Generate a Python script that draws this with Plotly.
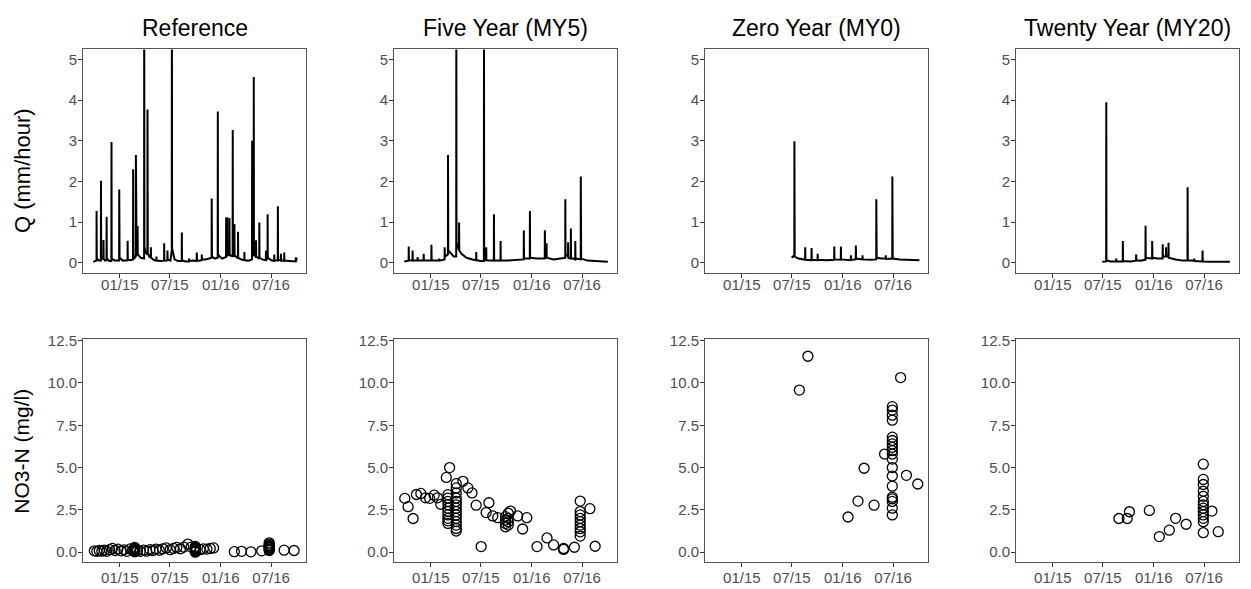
import plotly.graph_objects as go

# ---------------- data ----------------
panel_titles = ["Reference", "Five Year (MY5)", "Zero Year (MY0)", "Twenty Year (MY20)"]

x_tick_vals = ["2015-01-01", "2015-07-01", "2016-01-01", "2016-07-01"]
x_tick_text = ["01/15", "07/15", "01/16", "07/16"]
q_tick_vals = [0, 1, 2, 3, 4, 5]
q_tick_text = ["0", "1", "2", "3", "4", "5"]
n_tick_vals = [0, 2.5, 5, 7.5, 10, 12.5]
n_tick_text = ["0.0", "2.5", "5.0", "7.5", "10.0", "12.5"]

# discharge, Reference watershed
ref_q_time = [
    "2014-09-27", "2014-10-04", "2014-10-08 18:00", "2014-10-09 04:00", "2014-10-09 20:00",
    "2014-10-16", "2014-10-24 12:00", "2014-10-25 00:00", "2014-10-25 18:00",
    "2014-11-02 12:00", "2014-11-03 00:00", "2014-11-03 14:00", "2014-11-09",
    "2014-11-14 00:00", "2014-11-14 10:00", "2014-11-15 00:00", "2014-11-24",
    "2014-12-01 12:00", "2014-12-02 00:00", "2014-12-02 16:00", "2014-12-14",
    "2014-12-29 12:00", "2014-12-30 00:00", "2014-12-30 12:00", "2014-12-31 06:00",
    "2015-01-12", "2015-01-29 00:00", "2015-01-29 08:00", "2015-01-30 00:00",
    "2015-02-08", "2015-02-17 20:00", "2015-02-18 06:00", "2015-02-18 20:00",
    "2015-02-24", "2015-02-27 20:00", "2015-02-28 04:00", "2015-02-28 18:00",
    "2015-03-03 00:00", "2015-03-06 00:00", "2015-03-06 08:00", "2015-03-07 00:00",
    "2015-03-18", "2015-03-29 20:00", "2015-03-30 06:00", "2015-03-31 00:00",
    "2015-04-04", "2015-04-10 20:00", "2015-04-11 04:00", "2015-04-11 12:00",
    "2015-04-12 06:00", "2015-04-17", "2015-04-23 00:00", "2015-04-23 08:00",
    "2015-04-24", "2015-05-06", "2015-05-13 00:00", "2015-05-13 08:00", "2015-05-14",
    "2015-05-28", "2015-06-10 00:00", "2015-06-10 08:00", "2015-06-11", "2015-06-17",
    "2015-06-22 00:00", "2015-06-22 08:00", "2015-06-23", "2015-07-03", "2015-07-07 20:00",
    "2015-07-08 06:00", "2015-07-09 00:00", "2015-07-18", "2015-07-30", "2015-08-12 20:00",
    "2015-08-13 06:00", "2015-08-13 20:00", "2015-08-25", "2015-09-08 00:00",
    "2015-09-08 08:00", "2015-09-09", "2015-09-22", "2015-10-05 20:00", "2015-10-06 06:00",
    "2015-10-07", "2015-10-16", "2015-10-24 00:00", "2015-10-24 08:00", "2015-10-25",
    "2015-11-08", "2015-11-16", "2015-11-28 20:00", "2015-11-29 04:00", "2015-11-29 12:00",
    "2015-11-30 06:00", "2015-12-10", "2015-12-20 20:00", "2015-12-21 06:00",
    "2015-12-21 20:00", "2016-01-05", "2016-01-14", "2016-01-20 00:00", "2016-01-20 08:00",
    "2016-01-21", "2016-01-24 00:00", "2016-01-24 08:00", "2016-01-25", "2016-02-01 00:00",
    "2016-02-01 08:00", "2016-02-02", "2016-02-12 20:00", "2016-02-13 06:00",
    "2016-02-13 20:00", "2016-02-19 00:00", "2016-02-19 08:00", "2016-02-20",
    "2016-03-03 00:00", "2016-03-03 08:00", "2016-03-04", "2016-03-14", "2016-03-26 00:00",
    "2016-03-26 08:00", "2016-03-27", "2016-04-12", "2016-04-22 20:00", "2016-04-23 06:00",
    "2016-04-24", "2016-04-28 20:00", "2016-04-29 06:00", "2016-04-29 20:00",
    "2016-05-07 00:00", "2016-05-07 08:00", "2016-05-08", "2016-05-19 00:00",
    "2016-05-19 08:00", "2016-05-20", "2016-05-30", "2016-06-12 00:00", "2016-06-12 08:00",
    "2016-06-13", "2016-06-18 00:00", "2016-06-18 08:00", "2016-06-19", "2016-07-02",
    "2016-07-12 00:00", "2016-07-12 08:00", "2016-07-13", "2016-07-25 00:00",
    "2016-07-25 08:00", "2016-07-26", "2016-08-05 00:00", "2016-08-05 08:00", "2016-08-06",
    "2016-08-17 00:00", "2016-08-17 08:00", "2016-08-18", "2016-09-06", "2016-09-20",
    "2016-09-28 00:00", "2016-09-28 08:00", "2016-09-29", "2016-10-02",
]
ref_q_val = [
    0.02, 0.04, 0.05, 1.27, 0.10,
    0.06, 0.05, 2.02, 0.15,
    0.08, 0.56, 0.10, 0.05,
    0.06, 1.13, 0.10, 0.04,
    0.04, 2.97, 0.10, 0.05,
    0.05, 1.80, 1.30, 0.12,
    0.05, 0.06, 0.54, 0.08,
    0.06, 0.08, 2.30, 0.20,
    0.12, 0.15, 2.65, 0.30,
    0.18, 0.20, 0.90, 0.20,
    0.12, 0.10, 7.50, 0.40,
    0.25, 0.20, 3.77, 3.00,
    0.25, 0.15, 0.12, 0.38,
    0.12, 0.06, 0.05, 0.15, 0.05,
    0.04, 0.05, 0.48, 0.06, 0.05,
    0.06, 0.30, 0.08, 0.05, 0.30,
    7.00, 0.35, 0.08, 0.04, 0.04,
    0.74, 0.06, 0.03, 0.03,
    0.10, 0.04, 0.05, 0.04, 0.25,
    0.06, 0.05, 0.06, 0.20, 0.08,
    0.08, 0.10, 0.12, 1.58, 0.95,
    0.15, 0.10, 0.12, 3.72,
    0.20, 0.10, 0.12, 0.14, 1.11,
    0.20, 0.15, 1.12, 0.20, 0.18,
    1.10, 0.20, 0.15, 3.27,
    0.20, 0.15, 0.95, 0.18,
    0.10, 0.76, 0.12, 0.08, 0.06,
    0.26, 0.06, 0.05, 0.08, 3.00,
    0.15, 0.20, 4.57, 0.30,
    0.12, 0.55, 0.15, 0.10,
    0.99, 0.12, 0.08, 0.06, 0.30,
    0.10, 0.08, 1.19, 0.12, 0.06,
    0.04, 0.20, 0.06, 0.05,
    1.39, 0.08, 0.05, 0.22, 0.06,
    0.04, 0.25, 0.05, 0.04, 0.03,
    0.03, 0.13, 0.04, 0.12,
]

# discharge, MY5 watershed
my5_q_time = [
    "2014-09-27", "2014-10-06", "2014-10-12 20:00", "2014-10-13 06:00", "2014-10-14",
    "2014-10-26 20:00", "2014-10-27 06:00", "2014-10-28", "2014-11-13 20:00",
    "2014-11-14 06:00", "2014-11-15", "2014-12-05 20:00", "2014-12-06 06:00", "2014-12-07",
    "2015-01-02 20:00", "2015-01-03 06:00", "2015-01-04", "2015-01-20", "2015-01-31 00:00",
    "2015-01-31 08:00", "2015-02-01", "2015-02-19 20:00", "2015-02-20 06:00",
    "2015-02-21", "2015-03-03 20:00", "2015-03-04 04:00", "2015-03-04 12:00",
    "2015-03-05 06:00", "2015-03-12", "2015-03-25", "2015-04-02 20:00", "2015-04-03 06:00",
    "2015-04-04", "2015-04-12 20:00", "2015-04-13 06:00", "2015-04-14", "2015-04-22",
    "2015-05-10", "2015-06-01", "2015-06-13 20:00", "2015-06-14 06:00", "2015-06-15",
    "2015-06-30", "2015-07-11 20:00", "2015-07-12 06:00", "2015-07-13", "2015-07-20 00:00",
    "2015-07-20 08:00", "2015-07-21", "2015-08-16 20:00", "2015-08-17 06:00",
    "2015-08-18", "2015-09-09 20:00", "2015-09-10 06:00", "2015-09-11", "2015-10-05",
    "2015-11-01", "2015-12-02 20:00", "2015-12-03 06:00", "2015-12-04", "2015-12-24 20:00",
    "2015-12-25 06:00", "2015-12-26", "2016-01-20", "2016-02-16 20:00", "2016-02-17 06:00",
    "2016-02-18", "2016-02-23 00:00", "2016-02-23 08:00", "2016-02-24", "2016-03-20",
    "2016-04-25", "2016-04-30 20:00", "2016-05-01 06:00", "2016-05-02", "2016-05-11 00:00",
    "2016-05-11 08:00", "2016-05-12", "2016-05-20 20:00", "2016-05-21 06:00",
    "2016-05-22", "2016-06-05 20:00", "2016-06-06 06:00", "2016-06-07", "2016-06-25 20:00",
    "2016-06-26 04:00", "2016-06-26 14:00", "2016-06-27 12:00", "2016-07-20",
    "2016-08-20", "2016-10-02",
]
my5_q_val = [
    0.03, 0.04, 0.05, 0.40, 0.06,
    0.05, 0.30, 0.05, 0.05,
    0.14, 0.05, 0.05, 0.22, 0.05,
    0.05, 0.44, 0.06, 0.05, 0.05,
    0.10, 0.05, 0.08, 0.38,
    0.15, 0.20, 2.65, 1.15,
    0.30, 0.25, 0.15, 0.15, 6.50,
    0.50, 0.30, 0.99, 0.30, 0.22,
    0.12, 0.08, 0.06, 0.26, 0.06,
    0.04, 0.04, 6.00, 0.10, 0.05,
    0.38, 0.06, 0.05, 1.19,
    0.06, 0.05, 0.53, 0.06, 0.05,
    0.06, 0.08, 0.79, 0.10, 0.10,
    1.27, 0.12, 0.10, 0.10, 0.80,
    0.15, 0.12, 0.48, 0.12, 0.08,
    0.10, 0.12, 1.56, 0.20, 0.15,
    0.50, 0.12, 0.10, 0.84,
    0.12, 0.08, 0.53, 0.10, 0.08,
    2.12, 1.38, 0.10, 0.05,
    0.03, 0.02,
]

# discharge, MY0 watershed
my0_q_time = [
    "2015-06-30", "2015-07-09 20:00", "2015-07-10 04:00", "2015-07-10 12:00",
    "2015-07-11 06:00", "2015-07-25", "2015-08-17 20:00", "2015-08-18 06:00",
    "2015-08-19", "2015-09-09 20:00", "2015-09-10 06:00", "2015-09-11", "2015-10-01 20:00",
    "2015-10-02 06:00", "2015-10-03", "2015-11-05", "2015-11-30 20:00", "2015-12-01 06:00",
    "2015-12-02", "2015-12-24 20:00", "2015-12-25 06:00", "2015-12-26", "2016-01-29 20:00",
    "2016-01-30 06:00", "2016-01-31", "2016-02-16 20:00", "2016-02-17 06:00",
    "2016-02-18", "2016-03-11 20:00", "2016-03-12 06:00", "2016-03-13", "2016-04-10",
    "2016-04-30 20:00", "2016-05-01 04:00", "2016-05-01 14:00", "2016-05-02 12:00",
    "2016-05-20", "2016-06-03 20:00", "2016-06-04 06:00", "2016-06-05",
    "2016-06-27 20:00", "2016-06-28 04:00", "2016-06-28 14:00", "2016-06-29 12:00",
    "2016-07-25", "2016-08-25", "2016-10-04",
]
my0_q_val = [
    0.12, 0.18, 2.99, 2.30,
    0.15, 0.10, 0.07, 0.38,
    0.07, 0.06, 0.36, 0.07, 0.06,
    0.22, 0.07, 0.06, 0.07, 0.40,
    0.08, 0.07, 0.40, 0.08, 0.06,
    0.18, 0.07, 0.08, 0.42,
    0.10, 0.08, 0.18, 0.08, 0.07,
    0.08, 1.56, 0.50, 0.12,
    0.10, 0.10, 0.18, 0.09,
    0.10, 2.12, 0.80, 0.10,
    0.08, 0.07, 0.06,
]

# discharge, MY20 watershed
my20_q_time = [
    "2015-06-29", "2015-07-12 20:00", "2015-07-13 06:00", "2015-07-14", "2015-07-28",
    "2015-08-17 20:00", "2015-08-18 06:00", "2015-08-19", "2015-09-10 20:00",
    "2015-09-11 06:00", "2015-09-12", "2015-10-10", "2015-10-28 20:00", "2015-10-29 06:00",
    "2015-10-30", "2015-11-12", "2015-12-01 20:00", "2015-12-02 06:00", "2015-12-03",
    "2015-12-25 20:00", "2015-12-26 04:00", "2015-12-26 14:00", "2015-12-27",
    "2016-01-15", "2016-02-01 20:00", "2016-02-02 06:00", "2016-02-03", "2016-02-13 20:00",
    "2016-02-14 06:00", "2016-02-15", "2016-02-22 20:00", "2016-02-23 06:00",
    "2016-02-24", "2016-03-20", "2016-04-15", "2016-05-01 20:00", "2016-05-02 06:00",
    "2016-05-03", "2016-05-25 20:00", "2016-05-26 06:00", "2016-05-27", "2016-06-24 20:00",
    "2016-06-25 06:00", "2016-06-26", "2016-07-20", "2016-08-25", "2016-10-02",
]
my20_q_val = [
    0.02, 0.03, 3.95, 0.06, 0.03,
    0.03, 0.10, 0.03, 0.03,
    0.53, 0.04, 0.03, 0.05, 0.20,
    0.06, 0.05, 0.07, 0.91, 0.12,
    0.10, 0.53, 0.40, 0.12,
    0.10, 0.10, 0.45, 0.15, 0.15,
    0.38, 0.15, 0.15, 0.49,
    0.12, 0.08, 0.05, 0.05, 1.86,
    0.06, 0.05, 0.10, 0.04, 0.03,
    0.30, 0.03, 0.02, 0.02, 0.02,
]

# nitrate concentrations, Reference watershed
ref_no3_date = [
    "2014-10-01", "2014-10-10", "2014-10-19", "2014-10-28", "2014-11-06", "2014-11-15",
    "2014-11-25", "2014-12-05", "2014-12-15", "2014-12-25", "2015-01-06", "2015-01-16",
    "2015-01-26", "2015-02-08", "2015-02-16",
    "2015-02-24", "2015-02-24", "2015-02-24", "2015-02-24", "2015-02-24", "2015-02-24",
    "2015-03-06", "2015-03-16", "2015-03-28", "2015-04-08", "2015-04-20", "2015-05-01",
    "2015-05-12", "2015-05-24", "2015-06-05", "2015-06-18", "2015-07-02", "2015-07-14",
    "2015-07-26", "2015-08-08", "2015-08-20", "2015-09-04", "2015-09-16",
    "2015-10-01", "2015-10-01", "2015-10-01", "2015-10-01", "2015-10-01", "2015-10-01",
    "2015-10-01", "2015-10-01",
    "2015-10-18", "2015-10-30", "2015-11-12", "2015-11-24", "2015-12-06",
    "2016-02-19", "2016-03-16", "2016-04-19", "2016-05-28",
    "2016-06-24", "2016-06-24", "2016-06-24", "2016-06-24", "2016-06-24", "2016-06-24",
    "2016-06-24", "2016-06-24", "2016-06-24",
    "2016-08-17", "2016-09-22",
]
ref_no3_val = [
    0.08, 0.05, 0.10, 0.06, 0.12, 0.05,
    0.15, 0.22, 0.10, 0.18, 0.08, 0.14,
    0.05, 0.20, 0.12,
    0.02, 0.08, 0.12, 0.17, 0.22, 0.28,
    0.10, 0.05, 0.12, 0.06, 0.15, 0.10,
    0.18, 0.12, 0.20, 0.25, 0.15, 0.22,
    0.28, 0.20, 0.30, 0.48, 0.30,
    0.00, 0.05, 0.10, 0.14, 0.18, 0.22, 0.28, 0.34,
    0.15, 0.20, 0.18, 0.22, 0.25,
    0.03, 0.05, 0.02, 0.08,
    0.10, 0.15, 0.20, 0.25, 0.30, 0.35, 0.40, 0.47, 0.55,
    0.12, 0.10,
]

# nitrate concentrations, MY5 watershed
my5_no3_date = [
    "2014-09-29", "2014-10-11", "2014-10-29", "2014-11-10", "2014-11-26", "2014-12-13",
    "2014-12-28", "2015-01-13", "2015-01-25", "2015-02-06",
    "2015-02-26", "2015-03-10",
    "2015-03-04", "2015-03-04", "2015-03-04", "2015-03-04", "2015-03-04", "2015-03-04",
    "2015-03-04", "2015-03-04", "2015-03-04", "2015-03-04",
    "2015-04-03", "2015-04-03", "2015-04-03", "2015-04-03", "2015-04-03", "2015-04-03",
    "2015-04-03", "2015-04-03", "2015-04-03", "2015-04-03", "2015-04-03", "2015-04-03",
    "2015-04-03", "2015-04-03",
    "2015-04-27", "2015-05-15", "2015-05-30", "2015-06-14", "2015-07-02", "2015-07-20",
    "2015-07-30", "2015-08-13", "2015-08-31",
    "2015-09-28", "2015-09-28", "2015-09-28", "2015-09-28", "2015-10-08", "2015-10-08",
    "2015-10-08", "2015-10-08", "2015-10-16",
    "2015-11-11", "2015-11-29", "2015-12-14", "2016-01-20", "2016-02-25", "2016-03-20",
    "2016-04-25", "2016-04-25", "2016-06-03",
    "2016-06-24", "2016-06-24", "2016-06-24", "2016-06-24", "2016-06-24", "2016-06-24",
    "2016-06-24", "2016-06-24", "2016-06-24",
    "2016-07-29", "2016-08-17",
]
my5_no3_val = [
    3.18, 2.69, 1.99, 3.41, 3.47, 3.21,
    3.18, 3.37, 3.21, 2.83,
    4.42, 5.00,
    1.70, 1.85, 2.00, 2.20, 2.40, 2.60, 2.80, 3.00, 3.20, 3.40,
    1.25, 1.40, 1.60, 1.80, 2.00, 2.20, 2.40, 2.60, 2.80, 3.00, 3.20, 3.50, 3.80, 4.05,
    4.19, 3.80, 3.50, 2.78, 0.33, 2.34,
    2.92, 2.14, 2.04,
    1.50, 1.70, 1.90, 2.10, 1.60, 1.80, 2.00, 2.30, 2.43,
    2.14, 1.37, 2.04, 0.33, 0.84, 0.43,
    0.16, 0.22, 0.29,
    0.95, 1.20, 1.40, 1.60, 1.80, 2.00, 2.20, 2.40, 3.02,
    2.57, 0.35,
]

# nitrate concentrations, MY0 watershed
my0_no3_date = [
    "2015-07-28", "2015-08-28", "2016-01-20", "2016-02-25", "2016-03-18", "2016-04-23",
    "2016-05-31",
    "2016-06-28", "2016-06-28", "2016-06-28", "2016-06-28", "2016-06-28", "2016-06-28",
    "2016-06-28", "2016-06-28", "2016-06-28", "2016-06-28", "2016-06-28", "2016-06-28",
    "2016-06-28", "2016-06-28", "2016-06-28", "2016-06-28", "2016-06-28", "2016-06-28",
    "2016-06-28",
    "2016-07-28", "2016-08-18", "2016-09-28",
]
my0_no3_val = [
    9.58, 11.58, 2.08, 3.02, 4.96, 2.78,
    5.80,
    2.20, 2.60, 3.00, 3.15, 3.25, 3.90, 4.50, 5.00, 5.50, 5.80, 6.00, 6.20,
    6.40, 6.60, 6.80, 7.80, 8.10, 8.40, 8.60,
    10.32, 4.54, 4.03,
]

# nitrate concentrations, MY20 watershed
my20_no3_date = [
    "2015-08-28", "2015-09-27", "2015-10-05", "2015-12-16", "2016-01-21", "2016-02-26",
    "2016-03-20", "2016-04-27",
    "2016-06-28", "2016-06-28", "2016-06-28", "2016-06-28", "2016-06-28", "2016-06-28",
    "2016-06-28", "2016-06-28", "2016-06-28", "2016-06-28", "2016-06-28", "2016-06-28",
    "2016-06-28",
    "2016-07-29", "2016-08-21",
]
my20_no3_val = [
    1.99, 1.99, 2.39, 2.47, 0.92, 1.30,
    2.00, 1.65,
    1.15, 1.80, 2.00, 2.20, 2.40, 2.60, 2.80, 3.00, 3.30, 3.60, 4.00, 4.30,
    5.20,
    2.43, 1.21,
]

q_series = [(ref_q_time, ref_q_val), (my5_q_time, my5_q_val),
            (my0_q_time, my0_q_val), (my20_q_time, my20_q_val)]
no3_series = [(ref_no3_date, ref_no3_val), (my5_no3_date, my5_no3_val),
              (my0_no3_date, my0_no3_val), (my20_no3_date, my20_no3_val)]

# ---------------- layout geometry ----------------
W, H = 1251, 589
col_px = [(83, 306), (394, 617), (705, 928), (1016, 1239)]
row_px = [(43, 269), (336, 562)]  # top/bottom edges of each panel row
x_label_standoff = [-6, -2]        # per row, pulls the date labels toward the panel

x_range = ["2014-08-21", "2016-11-04"]
q_range = [-0.25, 5.25]
n_range = [-0.6, 12.6]

FONT = "Liberation Sans, Arial, Helvetica, sans-serif"
tick_font = dict(family=FONT, size=15, color="#4D4D4D")
border = "#555555"

fig = go.Figure()
layout = dict(
    width=W, height=H,
    margin=dict(l=0, r=0, t=0, b=0),
    paper_bgcolor="white", plot_bgcolor="white",
    showlegend=False,
    font=dict(family=FONT),
)

for r in range(2):
    for c in range(4):
        idx = r * 4 + c + 1
        xname = "xaxis" if idx == 1 else f"xaxis{idx}"
        yname = "yaxis" if idx == 1 else f"yaxis{idx}"
        xref = "x" if idx == 1 else f"x{idx}"
        yref = "y" if idx == 1 else f"y{idx}"
        x0, x1 = col_px[c]
        top, bot = row_px[r]
        layout[xname] = dict(
            domain=[x0 / W, x1 / W], anchor=yref, range=x_range, type="date",
            tickmode="array", tickvals=x_tick_vals, ticktext=x_tick_text,
            ticks="outside", ticklen=4, tickcolor="#333333", tickwidth=1,
            ticklabelstandoff=x_label_standoff[r],
            tickfont=tick_font, showgrid=False, zeroline=False,
            showline=True, mirror=True, linecolor=border, linewidth=1,
        )
        layout[yname] = dict(
            domain=[1 - bot / H, 1 - top / H], anchor=xref,
            range=q_range if r == 0 else n_range,
            tickmode="array",
            tickvals=q_tick_vals if r == 0 else n_tick_vals,
            ticktext=q_tick_text if r == 0 else n_tick_text,
            ticks="outside", ticklen=4, tickcolor="#333333", tickwidth=1,
            ticklabelstandoff=-2,
            tickfont=tick_font, showgrid=False, zeroline=False,
            showline=True, mirror=True, linecolor=border, linewidth=1,
        )
        if r == 0:
            t, v = q_series[c]
            fig.add_trace(go.Scatter(
                x=t, y=v, mode="lines", xaxis=xref, yaxis=yref,
                line=dict(color="black", width=2), hoverinfo="skip",
            ))
        else:
            t, v = no3_series[c]
            fig.add_trace(go.Scatter(
                x=t, y=v, mode="markers", xaxis=xref, yaxis=yref,
                marker=dict(symbol="circle-open", size=10, color="black",
                            line=dict(width=1.3, color="black")),
                hoverinfo="skip",
            ))

annotations = []
for c, title in enumerate(panel_titles):
    x0, x1 = col_px[c]
    annotations.append(dict(
        text=title, xref="paper", yref="paper",
        x=(x0 + x1) / 2 / W, y=1 - 21 / H, xanchor="center", yanchor="middle",
        showarrow=False, font=dict(family=FONT, size=23, color="black"),
    ))
annotations.append(dict(
    text="Q (mm/hour)", xref="paper", yref="paper", x=22 / W, y=1 - 166 / H,
    xanchor="center", yanchor="middle", textangle=-90, showarrow=False,
    font=dict(family=FONT, size=22, color="black"),
))
annotations.append(dict(
    text="NO3-N (mg/l)", xref="paper", yref="paper", x=22 / W, y=1 - 450 / H,
    xanchor="center", yanchor="middle", textangle=-90, showarrow=False,
    font=dict(family=FONT, size=21, color="black"),
))
layout["annotations"] = annotations

fig.update_layout(**layout)
fig.write_html("out.html")
